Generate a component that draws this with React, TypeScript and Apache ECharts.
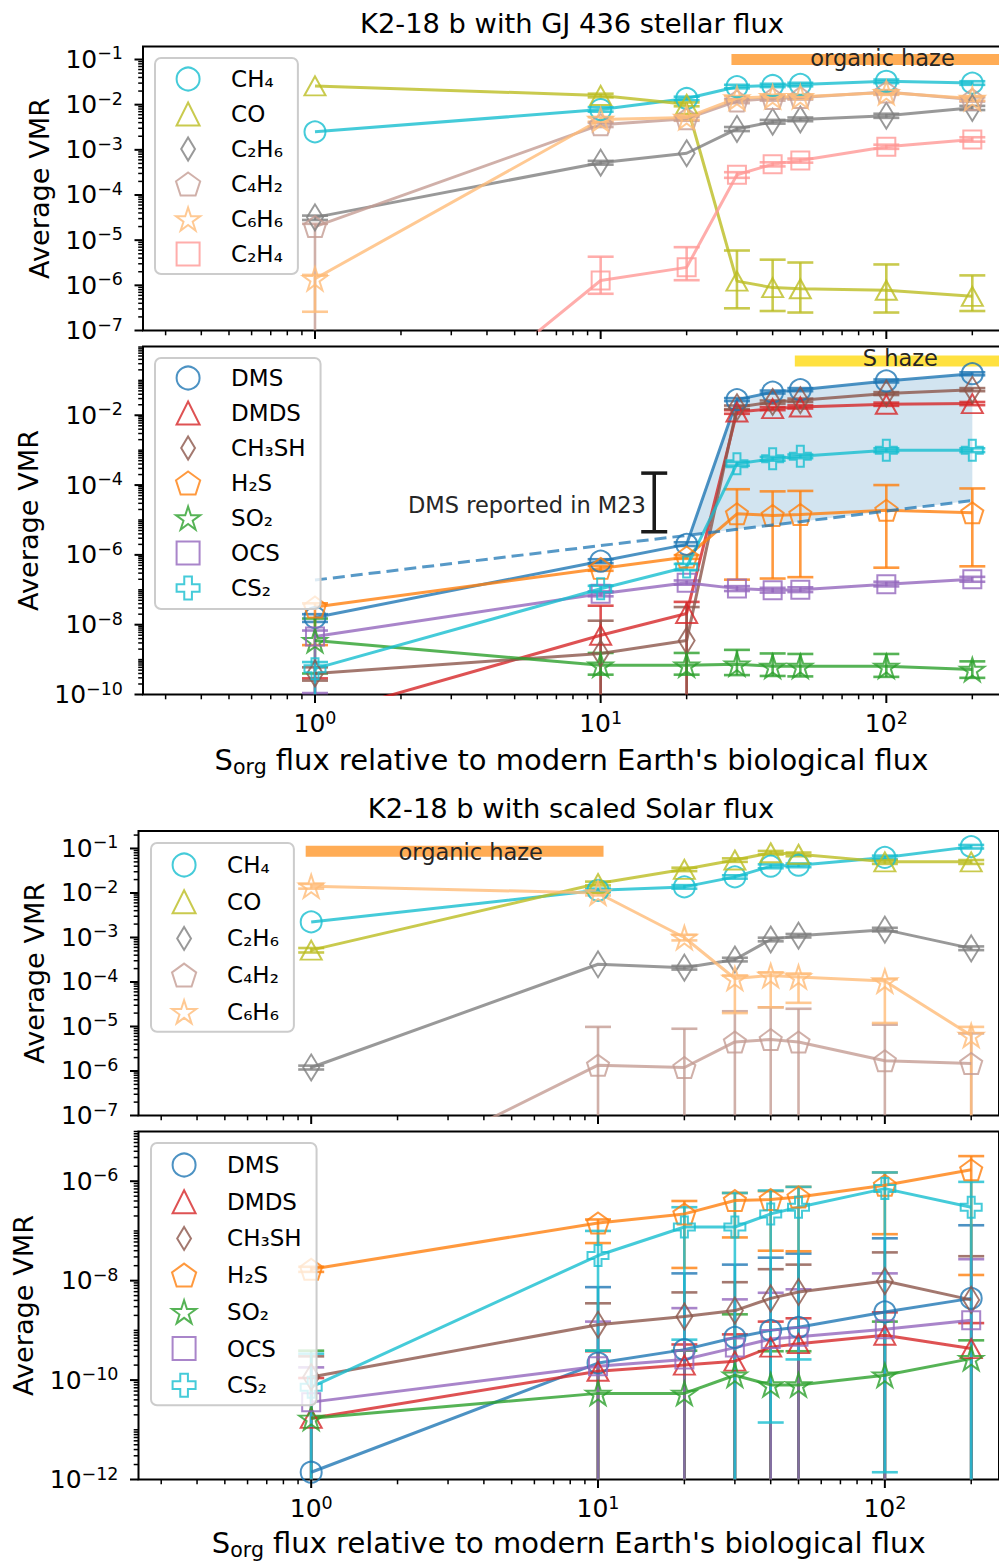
import React, { useEffect, useRef } from 'react';
import * as echarts from 'echarts';

const FONT = 'DejaVu Sans';
const X = [1, 10, 20, 30, 40, 50, 100, 200];
const BOT = 1e-13;

// ---------- Panel 1: K2-18 b with GJ 436 stellar flux (organics)
const GJ_CH4 = [2.5e-3, 7.8e-3, 1.37e-2, 2.5e-2, 2.66e-2, 2.8e-2, 3.3e-2, 3.0e-2];
const GJ_CH4_ERR = [null, [7.0e-3, 8.8e-3], [1.25e-2, 1.5e-2], [2.3e-2, 2.75e-2], [2.45e-2, 2.9e-2], [2.55e-2, 3.05e-2], [3.0e-2, 3.6e-2], [2.75e-2, 3.3e-2]];
const GJ_CO = [2.6e-2, 1.6e-2, 1.02e-2, 1.24e-6, 8.9e-7, 8.4e-7, 7.8e-7, 5.7e-7];
const GJ_CO_ERR = [null, [1.45e-2, 1.75e-2], [9.2e-3, 1.12e-2], [3.1e-7, 5.9e-6], [2.7e-7, 3.7e-6], [2.5e-7, 3.2e-6], [2.5e-7, 2.9e-6], [2.7e-7, 1.66e-6]];
const GJ_C2H6 = [3.2e-5, 5.2e-4, 8.4e-4, 2.9e-3, 4.2e-3, 4.7e-3, 5.7e-3, 8.5e-3];
const GJ_C2H6_ERR = [[2.8e-5, 3.5e-5], [4.7e-4, 5.7e-4], null, [2.6e-3, 3.2e-3], [3.8e-3, 4.6e-3], [4.3e-3, 5.2e-3], [5.1e-3, 6.3e-3], [7.6e-3, 9.4e-3]];
const GJ_C4H2 = [2.0e-5, 3.6e-3, 4.9e-3, 1.2e-2, 1.37e-2, 1.44e-2, 1.9e-2, 1.3e-2];
const GJ_C4H2_ERR = [[BOT, 2.3e-5], [3.2e-3, 4.0e-3], [4.4e-3, 5.4e-3], [1.08e-2, 1.33e-2], [1.23e-2, 1.52e-2], [1.3e-2, 1.6e-2], [1.7e-2, 2.1e-2], [1.17e-2, 1.45e-2]];
const GJ_C6H6 = [1.4e-6, 4.7e-3, 5.2e-3, 1.4e-2, 1.5e-2, 1.5e-2, 1.85e-2, 1.37e-2];
const GJ_C6H6_ERR = [[2.6e-7, 1.7e-6], [4.2e-3, 5.3e-3], [4.6e-3, 5.8e-3], [1.25e-2, 1.55e-2], [1.35e-2, 1.65e-2], [1.35e-2, 1.66e-2], [1.65e-2, 2.05e-2], [1.22e-2, 1.52e-2]];
const GJ_C2H4 = [9e-12, 1.28e-6, 2.5e-6, 2.8e-4, 4.8e-4, 5.8e-4, 1.17e-3, 1.7e-3];
const GJ_C2H4_ERR = [null, [6.5e-7, 4.3e-6], [1.3e-6, 7e-6], [2.4e-4, 3.2e-4], [4.3e-4, 5.3e-4], [5.2e-4, 6.4e-4], [1.05e-3, 1.3e-3], [1.52e-3, 1.9e-3]];
const GJ_HAZE_X = [30, 250];
const GJ_HAZE_Y = 0.1;
const GJ_HAZE_LABEL = [97, 0.1];

// ---------- Panel 2: K2-18 b with GJ 436 stellar flux (sulfur species)
const GS_DMS = [1.6e-8, 6.6e-7, 2.0e-6, 2.8e-2, 4.6e-2, 5.4e-2, 9.6e-2, 0.155];
const GS_DMS_ERR = [[1.2e-8, 2e-8], [5.8e-7, 7.5e-7], [1.8e-6, 2.3e-6], [2.55e-2, 3.1e-2], [4.2e-2, 5.1e-2], [4.9e-2, 6e-2], [8.7e-2, 1.06e-1], [0.14, 0.17]];
const GS_DMDS = [2.3e-11, 5e-9, 2.1e-8, 1.24e-2, 1.55e-2, 1.73e-2, 2.06e-2, 2.16e-2];
const GS_DMDS_ERR = [[BOT, 2.9e-10], [BOT, 3.5e-8], [BOT, 4.5e-8], [1.1e-2, 1.4e-2], [1.4e-2, 1.72e-2], [1.56e-2, 1.92e-2], [1.86e-2, 2.3e-2], [1.95e-2, 2.4e-2]];
const GS_CH3SH = [4e-10, 1.5e-9, 3.5e-9, 1.7e-2, 2.4e-2, 2.7e-2, 4.2e-2, 5.4e-2];
const GS_CH3SH_ERR = [[2.5e-10, 6e-10], [BOT, 1.3e-8], [BOT, 3.2e-8], [1.5e-2, 1.9e-2], [2.15e-2, 2.65e-2], [2.4e-2, 3e-2], [3.8e-2, 4.6e-2], [4.9e-2, 6e-2]];
const GS_H2S = [3.2e-8, 4.1e-7, 8.7e-7, 1.5e-5, 1.35e-5, 1.44e-5, 1.9e-5, 1.6e-5];
const GS_H2S_ERR = [[2.6e-9, 4.1e-8], [3.5e-7, 4.8e-7], [7.7e-7, 9.8e-7], [1.95e-7, 7.6e-5], [2.1e-7, 6.6e-5], [2.3e-7, 6.8e-5], [4.3e-7, 1e-4], [4.7e-7, 8e-5]];
const GS_SO2 = [3.5e-9, 6.9e-10, 6.9e-10, 7.4e-10, 6.4e-10, 6.4e-10, 6.4e-10, 5.2e-10];
const GS_SO2_ERR = [[4e-10, 1.5e-8], [3.7e-10, 1.55e-9], [3.7e-10, 1.55e-9], [3.6e-10, 1.9e-9], [3.4e-10, 1.5e-9], [3.3e-10, 1.45e-9], [3.2e-10, 1.45e-9], [3e-10, 8.9e-10]];
const GS_OCS = [4.6e-9, 7.7e-8, 1.6e-7, 1.08e-7, 9.7e-8, 1.0e-7, 1.45e-7, 2e-7];
const GS_OCS_ERR = [[1.1e-10, 6.8e-9], [6.5e-8, 9e-8], [1.4e-7, 1.85e-7], [9.2e-8, 1.27e-7], [8.3e-8, 1.14e-7], [8.6e-8, 1.18e-7], [1.25e-7, 1.7e-7], [1.7e-7, 2.35e-7]];
const GS_CS2 = [5.5e-10, 1.07e-7, 4.5e-7, 4.1e-4, 5.7e-4, 6.7e-4, 1e-3, 1e-3];
const GS_CS2_ERR = [[BOT, 8.5e-10], [8.5e-8, 1.3e-7], [3.7e-7, 5.5e-7], [3.6e-4, 4.6e-4], [5e-4, 6.4e-4], [5.9e-4, 7.5e-4], [8.8e-4, 1.13e-3], [8.8e-4, 1.13e-3]];
const GS_M23 = [1.9e-7, 1.85e-6, 3.6e-6, 5.4e-6, 7.2e-6, 8.9e-6, 1.8e-5, 3.6e-5];
const M23_BAR = [15.4, 4.6e-6, 2.2e-4];
const M23_LABEL = [14.4, 2.7e-5];
const GS_HAZE_X = [50, 250];
const GS_HAZE_Y = 0.36;
const GS_HAZE_LABEL = [112, 0.36];

// ---------- Panel 3: K2-18 b with scaled Solar flux (organics)
const SO_CH4 = [2.24e-3, 1.15e-2, 1.37e-2, 2.3e-2, 4.0e-2, 4.2e-2, 6.3e-2, 0.11];
const SO_CH4_ERR = [null, [1.05e-2, 1.25e-2], [1.25e-2, 1.5e-2], [2.1e-2, 2.5e-2], [3.6e-2, 4.4e-2], [3.8e-2, 4.6e-2], [5.7e-2, 6.9e-2], [0.1, 0.12]];
const SO_CO = [5.2e-4, 1.63e-2, 3.4e-2, 5.5e-2, 8e-2, 7.4e-2, 5e-2, 5e-2];
const SO_CO_ERR = [[4.6e-4, 5.8e-4], [1.48e-2, 1.8e-2], [3.1e-2, 3.7e-2], [5e-2, 6e-2], [7.3e-2, 8.8e-2], [6.7e-2, 8.1e-2], [4.5e-2, 5.5e-2], [4.5e-2, 5.5e-2]];
const SO_C2H6 = [1.2e-6, 2.5e-4, 2.1e-4, 3.2e-4, 9e-4, 1.1e-3, 1.5e-3, 5.7e-4];
const SO_C2H6_ERR = [[1.08e-6, 1.32e-6], null, [1.9e-4, 2.3e-4], [2.9e-4, 3.5e-4], [8.2e-4, 9.9e-4], [1e-3, 1.2e-3], [1.37e-3, 1.65e-3], [5.2e-4, 6.3e-4]];
const SO_C4H2 = [8.6e-10, 1.35e-6, 1.2e-6, 4.5e-6, 5.1e-6, 4.5e-6, 1.7e-6, 1.48e-6];
const SO_C4H2_ERR = [null, [BOT, 9.8e-6], [BOT, 8.9e-6], [BOT, 2.2e-5], [BOT, 2.7e-5], [BOT, 2.5e-5], [BOT, 1.1e-5], [BOT, 7e-6]];
const SO_C6H6 = [1.42e-2, 1.0e-2, 1.0e-3, 1.2e-4, 1.4e-4, 1.3e-4, 1.05e-4, 6.3e-6];
const SO_C6H6_ERR = [[1.25e-2, 1.6e-2], [8.8e-3, 1.13e-2], [8.6e-4, 1.15e-3], [2e-5, 1.4e-4], [2.7e-5, 1.65e-4], [3.4e-5, 1.55e-4], [1.2e-5, 1.15e-4], [BOT, 9.8e-6]];
const SO_HAZE_X = [1, 10];
const SO_HAZE_Y = 0.087;
const SO_HAZE_LABEL = [3.6, 0.087];

// ---------- Panel 4: K2-18 b with scaled Solar flux (sulfur species)
const SS_DMS = [1.4e-12, 2.2e-10, 4.1e-10, 7.2e-10, 1e-9, 1.15e-9, 2.35e-9, 4.4e-9];
const SS_DMS_ERR = [null, [BOT, 7.4e-9], [BOT, 1.4e-8], [BOT, 2.1e-8], [BOT, 2.9e-8], [BOT, 3.5e-8], [BOT, 7.1e-8], [BOT, 1.3e-7]];
const SS_DMDS = [1.7e-11, 1.5e-10, 2e-10, 2.4e-10, 4.6e-10, 5.4e-10, 8e-10, 4.3e-10];
const SS_DMDS_ERR = [[BOT, 1.1e-10], [BOT, 3.8e-10], [BOT, 5.2e-10], [BOT, 8.3e-10], [BOT, 1.5e-9], [BOT, 1.75e-9], [BOT, 2.3e-9], [BOT, 1.4e-9]];
const SS_CH3SH = [1.15e-10, 1.3e-9, 1.9e-9, 2.5e-9, 4.4e-9, 5.9e-9, 9.8e-9, 4.1e-9];
const SS_CH3SH_ERR = [[BOT, 3e-10], [BOT, 3.5e-9], [BOT, 5.8e-9], [BOT, 9.3e-9], [BOT, 1.7e-8], [BOT, 2.1e-8], [BOT, 3.7e-8], [BOT, 3.1e-8]];
const SS_H2S = [1.7e-8, 1.45e-7, 2.2e-7, 4.1e-7, 4.3e-7, 4.8e-7, 8.3e-7, 1.7e-6];
const SS_H2S_ERR = [[1.5e-8, 1.9e-8], [5.7e-8, 1.7e-7], [1.8e-8, 4e-7], [7.4e-8, 5.8e-7], [4e-8, 6.3e-7], [3.9e-8, 7.7e-7], [8.6e-8, 1.5e-6], [1.3e-8, 3.2e-6]];
const SS_SO2 = [1.7e-11, 5.4e-11, 5.4e-11, 1.25e-10, 8e-11, 8e-11, 1.25e-10, 2.7e-10];
const SS_SO2_ERR = [[BOT, 3.9e-10], [BOT, 3.9e-10], [BOT, 3.9e-10], [BOT, 2.1e-9], [BOT, 3.8e-10], [BOT, 3.8e-10], [BOT, 1.5e-9], [BOT, 6.3e-10]];
const SS_OCS = [3.6e-11, 1.9e-10, 2.6e-10, 4.5e-10, 6.7e-10, 7.4e-10, 1.05e-9, 1.6e-9];
const SS_OCS_ERR = [[BOT, 1.8e-10], [BOT, 1.5e-9], [BOT, 2.8e-9], [BOT, 4.2e-9], [BOT, 5.7e-9], [BOT, 6.7e-9], [BOT, 1.4e-8], [BOT, 2.7e-8]];
const SS_CS2 = [7.2e-11, 3.2e-8, 1.2e-7, 1.2e-7, 2.2e-7, 3e-7, 7.1e-7, 3e-7];
const SS_CS2_ERR = [[BOT, 3.4e-10], [3.9e-10, 1e-7], [6.5e-10, 3e-7], [BOT, 5.8e-7], [1.4e-11, 6.5e-7], [2.6e-10, 7.7e-7], [1.4e-12, 1.5e-6], [BOT, 9.7e-7]];

// ---------- axes ranges
const X_RANGE = [0.25, 250];
const Y_RANGES = [[1e-7, 0.194], [1e-10, 0.933], [1e-7, 0.247], [1e-12, 1e-5]];
const Y_STEPS = [1, 2, 1, 2];

// ---------- styles
const SYM: Record<string, { symbol: string; size: any }> = {
  circle: { symbol: 'circle', size: 21 },
  triangle: { symbol: 'path://M0,-1L1,1L-1,1Z', size: [21, 19] },
  diamond: { symbol: 'path://M0,-1L0.6,0L0,1L-0.6,0Z', size: [16, 26] },
  pentagon: { symbol: 'path://M0,-1L0.951,-0.309L0.588,0.809L-0.588,0.809L-0.951,-0.309Z', size: [22, 21] },
  star: { symbol: 'path://M0,-1L0.224,-0.308L0.951,-0.309L0.362,0.118L0.588,0.809L0,0.381L-0.588,0.809L-0.362,0.118L-0.951,-0.309L-0.224,-0.308Z', size: [24, 23] },
  square: { symbol: 'path://M-1,-1L1,-1L1,1L-1,1Z', size: 18 },
  plus: { symbol: 'path://M-0.333,-1L0.333,-1L0.333,-0.333L1,-0.333L1,0.333L0.333,0.333L0.333,1L-0.333,1L-0.333,0.333L-1,0.333L-1,-0.333L-0.333,-0.333Z', size: 21 },
};

function rgba(hex: string, a: number) {
  const n = parseInt(hex.slice(1), 16);
  return `rgba(${(n >> 16) & 255},${(n >> 8) & 255},${n & 255},${a})`;
}

const P1 = [
  { name: 'CH₄', color: '#17becf', sym: 'circle', vals: GJ_CH4, err: GJ_CH4_ERR },
  { name: 'CO', color: '#bcbd22', sym: 'triangle', vals: GJ_CO, err: GJ_CO_ERR },
  { name: 'C₂H₆', color: '#7f7f7f', sym: 'diamond', vals: GJ_C2H6, err: GJ_C2H6_ERR },
  { name: 'C₄H₂', color: '#c49c94', sym: 'pentagon', vals: GJ_C4H2, err: GJ_C4H2_ERR },
  { name: 'C₆H₆', color: '#ffbb78', sym: 'star', vals: GJ_C6H6, err: GJ_C6H6_ERR },
  { name: 'C₂H₄', color: '#ff9896', sym: 'square', vals: GJ_C2H4, err: GJ_C2H4_ERR },
];
const P2 = [
  { name: 'DMS', color: '#1f77b4', sym: 'circle', vals: GS_DMS, err: GS_DMS_ERR },
  { name: 'DMDS', color: '#d62728', sym: 'triangle', vals: GS_DMDS, err: GS_DMDS_ERR },
  { name: 'CH₃SH', color: '#8c564b', sym: 'diamond', vals: GS_CH3SH, err: GS_CH3SH_ERR },
  { name: 'H₂S', color: '#ff7f0e', sym: 'pentagon', vals: GS_H2S, err: GS_H2S_ERR },
  { name: 'SO₂', color: '#2ca02c', sym: 'star', vals: GS_SO2, err: GS_SO2_ERR },
  { name: 'OCS', color: '#9467bd', sym: 'square', vals: GS_OCS, err: GS_OCS_ERR },
  { name: 'CS₂', color: '#17becf', sym: 'plus', vals: GS_CS2, err: GS_CS2_ERR },
];
const P3 = [
  { name: 'CH₄', color: '#17becf', sym: 'circle', vals: SO_CH4, err: SO_CH4_ERR },
  { name: 'CO', color: '#bcbd22', sym: 'triangle', vals: SO_CO, err: SO_CO_ERR },
  { name: 'C₂H₆', color: '#7f7f7f', sym: 'diamond', vals: SO_C2H6, err: SO_C2H6_ERR },
  { name: 'C₄H₂', color: '#c49c94', sym: 'pentagon', vals: SO_C4H2, err: SO_C4H2_ERR },
  { name: 'C₆H₆', color: '#ffbb78', sym: 'star', vals: SO_C6H6, err: SO_C6H6_ERR },
];
const P4 = [
  { name: 'DMS', color: '#1f77b4', sym: 'circle', vals: SS_DMS, err: SS_DMS_ERR },
  { name: 'DMDS', color: '#d62728', sym: 'triangle', vals: SS_DMDS, err: SS_DMDS_ERR },
  { name: 'CH₃SH', color: '#8c564b', sym: 'diamond', vals: SS_CH3SH, err: SS_CH3SH_ERR },
  { name: 'H₂S', color: '#ff7f0e', sym: 'pentagon', vals: SS_H2S, err: SS_H2S_ERR },
  { name: 'SO₂', color: '#2ca02c', sym: 'star', vals: SS_SO2, err: SS_SO2_ERR },
  { name: 'OCS', color: '#9467bd', sym: 'square', vals: SS_OCS, err: SS_OCS_ERR },
  { name: 'CS₂', color: '#17becf', sym: 'plus', vals: SS_CS2, err: SS_CS2_ERR },
];

const ALPHA = 0.8;

function errRender(color: string) {
  return (params: any, api: any) => {
    const cs = params.coordSys;
    const x = api.value(0);
    const pLo = api.coord([x, api.value(1)]);
    const pHi = api.coord([x, api.value(2)]);
    const top = cs.y;
    const bot = cs.y + cs.height;
    const clamp = (v: number) => Math.min(Math.max(v, top), bot);
    const px = pLo[0];
    const style = { stroke: rgba(color, ALPHA), lineWidth: 2.6 };
    const kids: any[] = [
      { type: 'line', shape: { x1: px, y1: clamp(pLo[1]), x2: px, y2: clamp(pHi[1]) }, style },
    ];
    if (pLo[1] <= bot + 0.5 && pLo[1] >= top - 0.5)
      kids.push({ type: 'line', shape: { x1: px - 13, y1: pLo[1], x2: px + 13, y2: pLo[1] }, style });
    if (pHi[1] >= top - 0.5 && pHi[1] <= bot + 0.5)
      kids.push({ type: 'line', shape: { x1: px - 13, y1: pHi[1], x2: px + 13, y2: pHi[1] }, style });
    return { type: 'group', children: kids };
  };
}

function panelSeries(g: number, list: any[]) {
  const out: any[] = [];
  list.forEach((s) => {
    const errData = X.map((x, i) => (s.err[i] ? [x, s.err[i][0], s.err[i][1]] : null)).filter(Boolean);
    out.push({
      type: 'custom', name: s.name + ' err', xAxisIndex: g, yAxisIndex: g, silent: true, z: 2,
      data: errData, renderItem: errRender(s.color),
    });
    out.push({
      type: 'line', name: s.name, xAxisIndex: g, yAxisIndex: g, silent: true, z: 2,
      data: X.map((x, i) => [x, s.vals[i]]),
      symbol: SYM[s.sym].symbol, symbolSize: SYM[s.sym].size, showSymbol: true,
      itemStyle: { color: 'rgba(0,0,0,0)', borderColor: rgba(s.color, ALPHA), borderWidth: 2 },
      lineStyle: { color: rgba(s.color, ALPHA), width: 3 },
      emphasis: { disabled: true },
    });
  });
  return out;
}

function hazeSeries(g: number, xs: number[], y: number, color: string) {
  return {
    type: 'line', name: 'haze' + g, xAxisIndex: g, yAxisIndex: g, silent: true, z: 1,
    data: xs.map((x) => [x, y]), symbol: 'none',
    lineStyle: { color, width: 11, cap: 'square' },
  };
}

function textSeries(g: number, pos: number[], text: string, fontSize: number, align: string, dy: number) {
  return {
    type: 'custom', xAxisIndex: g, yAxisIndex: g, silent: true, z: 6,
    data: [pos],
    renderItem: (params: any, api: any) => {
      const p = api.coord([api.value(0), api.value(1)]);
      return {
        type: 'text', x: p[0], y: p[1] + dy,
        style: { text, fontSize, fontFamily: FONT, fill: '#262626', align, verticalAlign: 'middle', textAlign: align, textVerticalAlign: 'middle' },
      };
    },
  };
}

function tickSeries(g: number) {
  const yr = Y_RANGES[g];
  const xr = X_RANGE;
  const step = Y_STEPS[g];
  return {
    type: 'custom', xAxisIndex: g, yAxisIndex: g, silent: true, z: 5,
    data: [[1, yr[0] * 10]],
    renderItem: (params: any, api: any) => {
      const cs = params.coordSys;
      const kids: any[] = [];
      const stMin = { stroke: '#000', lineWidth: 1.5 };
      const stMaj = { stroke: '#000', lineWidth: 2 };
      for (let e = Math.floor(Math.log10(yr[0])); e <= Math.ceil(Math.log10(yr[1])); e++) {
        for (let m = 1; m <= 9; m++) {
          const v = m * Math.pow(10, e);
          if (v < yr[0] * 0.9999 || v > yr[1]) continue;
          const y = api.coord([xr[0], v])[1];
          const major = m === 1 && e % step === 0;
          const len = major ? 8.5 : 4.8;
          kids.push({ type: 'line', shape: { x1: cs.x - len, y1: y, x2: cs.x, y2: y }, style: major ? stMaj : stMin });
        }
      }
      const yb = cs.y + cs.height;
      for (let e = -1; e <= 2; e++) {
        for (let m = 1; m <= 9; m++) {
          const v = m * Math.pow(10, e);
          if (v < xr[0] * 0.9999 || v > xr[1]) continue;
          const x = api.coord([v, yr[0]])[0];
          const major = m === 1;
          const len = major ? 8.5 : 4.8;
          kids.push({ type: 'line', shape: { x1: x, y1: yb, x2: x, y2: yb + len }, style: major ? stMaj : stMin });
        }
      }
      return { type: 'group', children: kids };
    },
  };
}

const expLabel = (step: number) => (v: number) => {
  const e = Math.log10(v);
  const r = Math.round(e);
  if (Math.abs(e - r) > 1e-6 || r % step !== 0) return '';
  return `{b|10}{s|${r < 0 ? '\u2212' : ''}${Math.abs(r)}}`;
};
const TICK_RICH = {
  b: { fontSize: 25, lineHeight: 30, fontFamily: FONT, color: '#000' },
  s: { fontSize: 17.5, lineHeight: 18, verticalAlign: 'top', fontFamily: FONT, color: '#000' },
};

function mkLegend(list: any[], left: number, top: number, gap: number, pad: number[]) {
  return {
    orient: 'vertical', left, top, itemGap: gap, itemWidth: 40, itemHeight: 23,
    padding: pad, backgroundColor: 'rgba(255,255,255,0.8)', borderColor: '#cccccc', borderWidth: 2, borderRadius: 6,
    selectedMode: false, z: 10,
    textStyle: { fontSize: 23, fontFamily: FONT, color: '#000', padding: [0, 0, 0, 18], lineHeight: 26 },
    data: list.map((s) => ({
      name: s.name, icon: SYM[s.sym].symbol,
      itemStyle: { color: 'rgba(0,0,0,0)', borderColor: rgba(s.color, ALPHA), borderWidth: 2 },
    })),
  };
}

const GRIDS = [
  { left: 143, top: 46.5, width: 857, height: 284 },
  { left: 143, top: 346.5, width: 857, height: 348 },
  { left: 138.5, top: 831, width: 860.5, height: 284.5 },
  { left: 138.5, top: 1131.5, width: 860.5, height: 348 },
];
const Y_NAME_GAP = [89, 100, 89.5, 100.5];

const XNAME = "{m|S}{sub|org}{m| flux relative to modern Earth's biological flux}";

function buildOption() {
  const series: any[] = [];
  series.push(hazeSeries(0, GJ_HAZE_X, GJ_HAZE_Y, 'rgba(255,140,20,0.72)'));
  series.push(textSeries(0, GJ_HAZE_LABEL, 'organic haze', 22.5, 'center', -1));
  series.push(...panelSeries(0, P1));

  series.push({
    type: 'custom', xAxisIndex: 1, yAxisIndex: 1, silent: true, z: 1,
    data: [[X[2], GS_M23[2]]],
    renderItem: (params: any, api: any) => {
      const pts: number[][] = [];
      for (let i = 2; i < X.length; i++) pts.push(api.coord([X[i], GS_DMS[i]]));
      for (let i = X.length - 1; i >= 2; i--) pts.push(api.coord([X[i], GS_M23[i]]));
      return { type: 'polygon', shape: { points: pts }, style: { fill: 'rgba(31,119,180,0.2)' } };
    },
  });
  series.push(hazeSeries(1, GS_HAZE_X, GS_HAZE_Y, 'rgba(255,215,0,0.75)'));
  series.push(textSeries(1, GS_HAZE_LABEL, 'S haze', 22.5, 'center', -3));
  series.push(...panelSeries(1, P2));
  series.push({
    type: 'line', name: 'M23', xAxisIndex: 1, yAxisIndex: 1, silent: true, z: 3,
    data: X.map((x, i) => [x, GS_M23[i]]), symbol: 'none',
    lineStyle: { color: 'rgba(31,119,180,0.75)', width: 3, type: [12, 6] },
  });
  series.push({
    type: 'custom', xAxisIndex: 1, yAxisIndex: 1, silent: true, z: 4,
    data: [M23_BAR],
    renderItem: (params: any, api: any) => {
      const lo = api.coord([api.value(0), api.value(1)]);
      const hi = api.coord([api.value(0), api.value(2)]);
      const st = { stroke: '#1a1a1a', lineWidth: 3.5 };
      return {
        type: 'group',
        children: [
          { type: 'line', shape: { x1: lo[0], y1: lo[1], x2: hi[0], y2: hi[1] }, style: st },
          { type: 'line', shape: { x1: lo[0] - 13, y1: lo[1], x2: lo[0] + 13, y2: lo[1] }, style: st },
          { type: 'line', shape: { x1: hi[0] - 13, y1: hi[1], x2: hi[0] + 13, y2: hi[1] }, style: st },
        ],
      };
    },
  });
  series.push(textSeries(1, M23_LABEL, 'DMS reported in M23', 22.5, 'right', 0));

  series.push(hazeSeries(2, SO_HAZE_X, SO_HAZE_Y, 'rgba(255,140,20,0.72)'));
  series.push(textSeries(2, SO_HAZE_LABEL, 'organic haze', 22.5, 'center', 1));
  series.push(...panelSeries(2, P3));
  series.push(...panelSeries(3, P4));
  for (let g = 0; g < 4; g++) series.push(tickSeries(g));

  return {
    animation: false,
    textStyle: { fontFamily: FONT },
    grid: GRIDS.map((g) => ({ ...g, show: true, borderColor: '#000', borderWidth: 2, backgroundColor: 'transparent', containLabel: false, outerBoundsMode: 'none' })),
    xAxis: GRIDS.map((_, i) => ({
      type: 'log', logBase: 10, gridIndex: i, min: X_RANGE[0], max: X_RANGE[1],
      axisLine: { show: false }, axisTick: { show: false }, splitLine: { show: false }, minorTick: { show: false },
      axisLabel: { show: i === 1 || i === 3, formatter: expLabel(1), rich: TICK_RICH, margin: 14, interval: 0 },
      name: i === 1 || i === 3 ? XNAME : '',
      nameLocation: 'middle', nameGap: i === 3 ? 45 : 47,
      nameTextStyle: {
        rich: {
          m: { fontSize: 29, lineHeight: 36, fontFamily: FONT, color: '#000' },
          sub: { fontSize: 20.5, lineHeight: 18, verticalAlign: 'bottom', fontFamily: FONT, color: '#000' },
        },
      },
    })),
    yAxis: GRIDS.map((_, i) => ({
      type: 'log', logBase: 10, gridIndex: i, min: Y_RANGES[i][0], max: Y_RANGES[i][1],
      axisLine: { show: false }, axisTick: { show: false }, splitLine: { show: false }, minorTick: { show: false },
      axisLabel: { formatter: expLabel(Y_STEPS[i]), rich: TICK_RICH, margin: 20, interval: 0 },
      name: 'Average VMR', nameLocation: 'middle', nameGap: Y_NAME_GAP[i], nameRotate: 90,
      nameTextStyle: { fontSize: 27.2, fontFamily: FONT, color: '#000', lineHeight: 30 },
    })),
    legend: [
      mkLegend(P1, 155, 58, 9, [8, 15, 7, 20]),
      mkLegend(P2, 155, 358, 9, [7, 15, 8, 20]),
      mkLegend(P3, 151, 843, 10.7, [9, 15, 7, 20]),
      mkLegend(P4, 151, 1143, 10.7, [9, 15, 7, 20]),
    ],
    graphic: [
      { type: 'text', x: 572, y: 23, style: { text: 'K2-18 b with GJ 436 stellar flux', fontSize: 27.3, fontFamily: FONT, fill: '#000', align: 'center', verticalAlign: 'middle', textAlign: 'center', textVerticalAlign: 'middle' } },
      { type: 'text', x: 571, y: 808, style: { text: 'K2-18 b with scaled Solar flux', fontSize: 27.3, fontFamily: FONT, fill: '#000', align: 'center', verticalAlign: 'middle', textAlign: 'center', textVerticalAlign: 'middle' } },
    ],
    series,
  };
}

export default function App() {
  const ref = useRef<HTMLDivElement>(null);
  useEffect(() => {
    document.body.style.margin = '0';
    if (!ref.current) return;
    const chart = echarts.init(ref.current, undefined, { renderer: 'svg' });
    chart.setOption(buildOption() as any);
    return () => chart.dispose();
  }, []);
  return <div ref={ref} style={{ width: 999, height: 1562, background: '#fff' }} />;
}
